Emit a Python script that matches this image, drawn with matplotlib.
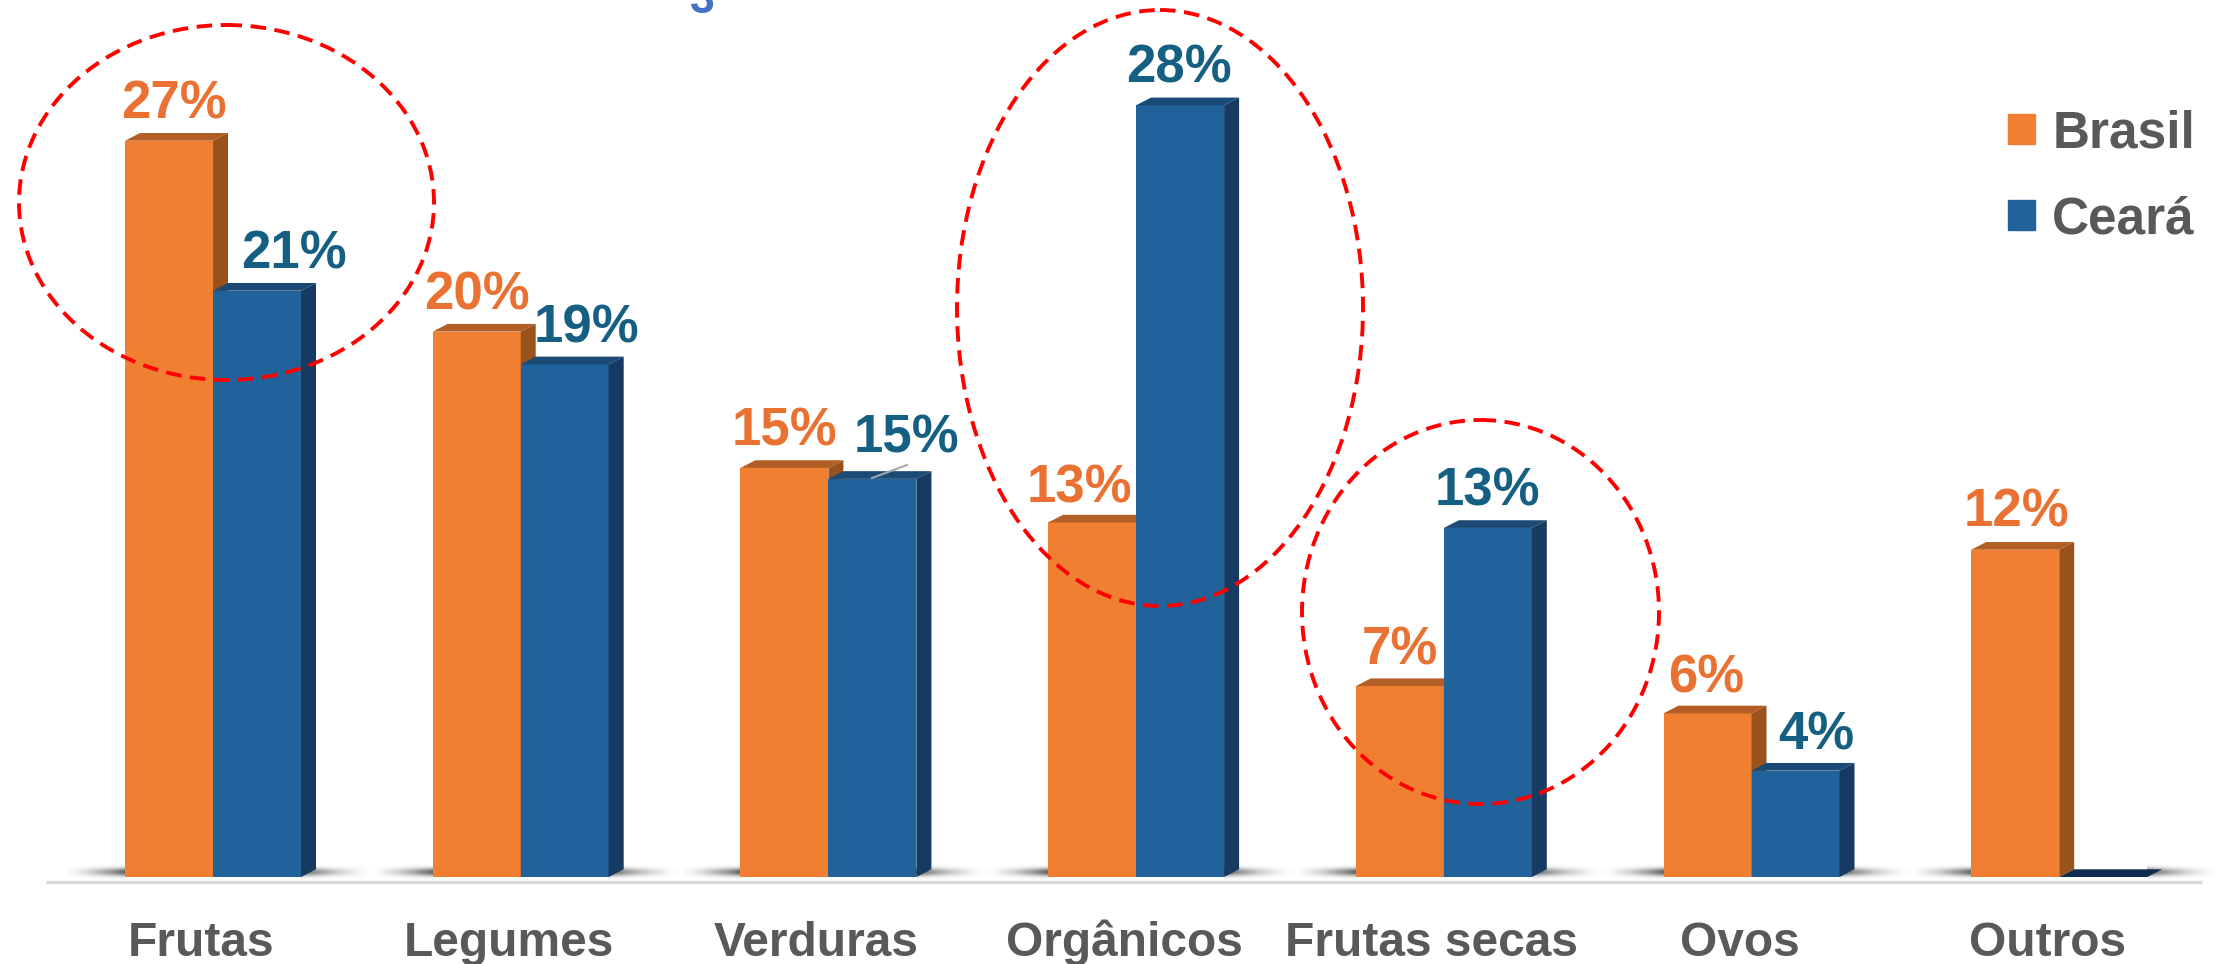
import numpy as np
import matplotlib
matplotlib.use("Agg")
import matplotlib.pyplot as plt
from matplotlib.patches import Ellipse, Patch, Polygon
from matplotlib.transforms import Affine2D

plt.rcParams['font.family'] = ['Liberation Sans', 'DejaVu Sans']

categories = ["Frutas", "Legumes", "Verduras", "Orgânicos", "Frutas secas", "Ovos", "Outros"]
brasil = [27, 20, 15, 13, 7, 6, 12]
ceara = [21.5, 18.8, 14.6, 28.3, 12.8, 3.9, 0]
brasil_labels = ["27%", "20%", "15%", "13%", "7%", "6%", "12%"]
ceara_labels = ["21%", "19%", "15%", "28%", "13%", "4%", ""]

# label offsets from the top centre of each bar, in pixels
brasil_offsets = [(5, 22), (0, 22), (0, 22), (-13, 20), (0, 22), (-1, 21), (1, 23)]
ceara_offsets = [(37, 22), (22, 22), (34, 26), (-1, 23), (0, 22), (21, 21), (0, 0)]

W, H = 2226, 964
BASE_Y = 877        # pixel row of the value 0
PX_PER_PCT = 27.27
GROUP_X0 = 213      # pixel column of the first group
GROUP_STEP = 307.7
BAR_PX = 88
DEPTH_X = 15
DEPTH_Y = 7.7

ORANGE = ("#F07F32", "#B35E24", "#9A521F")
BLUE = ("#22629A", "#1A4A75", "#163A62")
ORANGE_TEXT = "#E97132"
BLUE_TEXT = "#156082"
GREY_TEXT = "#595959"

fig = plt.figure(figsize=(W / 100, H / 100), dpi=100)
ax = fig.add_axes([0, 0, 1, 1])
xlim = (-GROUP_X0 / GROUP_STEP, (W - GROUP_X0) / GROUP_STEP)
ylim = (-(H - BASE_Y) / PX_PER_PCT, BASE_Y / PX_PER_PCT)
ax.axis('off')

# pixel coordinates measured from the top left corner of the picture
px = Affine2D().scale(1, -1).translate(0, H)

bar_w = BAR_PX / GROUP_STEP
dx = DEPTH_X / GROUP_STEP
dy = DEPTH_Y / PX_PER_PCT


def soft_shadow(x_start, x_end, dark_at_start):
    # blurred floor shadow beside a group of bars
    xs = np.linspace(0, 1, 120)
    ys = np.linspace(-1, 1, 30)
    fade = (1 - xs) ** 1.6 if dark_at_start else xs ** 1.6
    rgba = np.zeros((30, 120, 4))
    rgba[..., 3] = 0.62 * np.outer(np.exp(-(ys * 2.2) ** 2), fade)
    ax.imshow(rgba, extent=(x_start, x_end, -0.14, 0.5), aspect='auto',
              interpolation='bilinear', zorder=1)


for i in range(len(categories)):
    soft_shadow(i - bar_w - 0.21, i - bar_w, False)
    soft_shadow(i + bar_w, i + bar_w + dx + 0.19, True)


def draw_bars(offset, values, colors):
    xs = np.arange(len(values)) + offset
    ax.bar(xs, values, width=bar_w, color=colors[0], zorder=3)
    for x, v in zip(xs, values):
        left, right = x - bar_w / 2, x + bar_w / 2
        top_color = colors[1] if v > 0 else "#0F2C4E"
        ax.add_patch(Polygon([(left, v), (right, v), (right + dx, v + dy), (left + dx, v + dy)],
                             closed=True, facecolor=top_color, edgecolor='none', zorder=3))
        ax.add_patch(Polygon([(right, 0), (right + dx, dy), (right + dx, v + dy), (right, v)],
                             closed=True, facecolor=colors[2], edgecolor='none', zorder=3))
    return xs


x_br = draw_bars(-bar_w / 2, brasil, ORANGE)
x_ce = draw_bars(bar_w / 2, ceara, BLUE)

ax.set_xlim(xlim)
ax.set_ylim(ylim)

# value labels
for x, v, txt, off in zip(x_br, brasil, brasil_labels, brasil_offsets):
    ax.annotate(txt, xy=(x, v), xytext=off, textcoords='offset pixels', ha='center', va='baseline',
                fontsize=38, fontweight='bold', color=ORANGE_TEXT, zorder=6)
for x, v, txt, off in zip(x_ce, ceara, ceara_labels, ceara_offsets):
    if txt:
        ax.annotate(txt, xy=(x, v), xytext=off, textcoords='offset pixels', ha='center', va='baseline',
                    fontsize=38, fontweight='bold', color=BLUE_TEXT, zorder=6)

# axis line and category names
ax.plot([46, 2202], [882, 882], color="#D9D9D9", lw=2.4, transform=px, zorder=2, solid_capstyle='butt')
for i, name in enumerate(categories):
    ax.text(GROUP_X0 - 12 + i * GROUP_STEP, 956, name, transform=px, ha='center', va='baseline',
            fontsize=34.5, fontweight='bold', color=GREY_TEXT)

# leader line of the second 15% label
ax.plot([872, 907], [478, 465], color="#A6A6A6", lw=1.5, transform=px, zorder=5)

# dashed red highlights
for x0, x1, y0, y1 in [(19, 434, 25, 380), (957, 1363, 10, 606), (1302, 1659, 420, 804)]:
    ax.add_patch(Ellipse(((x0 + x1) / 2, (y0 + y1) / 2), x1 - x0, y1 - y0, transform=px, fill=False,
                         edgecolor="#FF0000", lw=2.8, linestyle=(0, (4, 2.2)), zorder=7))

# piece of a cropped title at the top edge
ax.text(702, 13, "3", transform=px, ha='center', va='baseline', fontsize=32, fontweight='bold', color="#4472C4")

# legend
handles = [Patch(color=ORANGE[0], label="Brasil"), Patch(color=BLUE[0], label="Ceará")]
leg = ax.legend(handles=handles, loc='upper left', bbox_to_anchor=(2008 / W, 1 - 109 / H), frameon=False,
                labelcolor=GREY_TEXT, handlelength=0.53, handleheight=0.53,
                handletextpad=0.33, labelspacing=0.72, borderpad=0, borderaxespad=0,
                prop={'size': 37, 'weight': 'bold'})

fig.savefig("out.png", dpi=100)
